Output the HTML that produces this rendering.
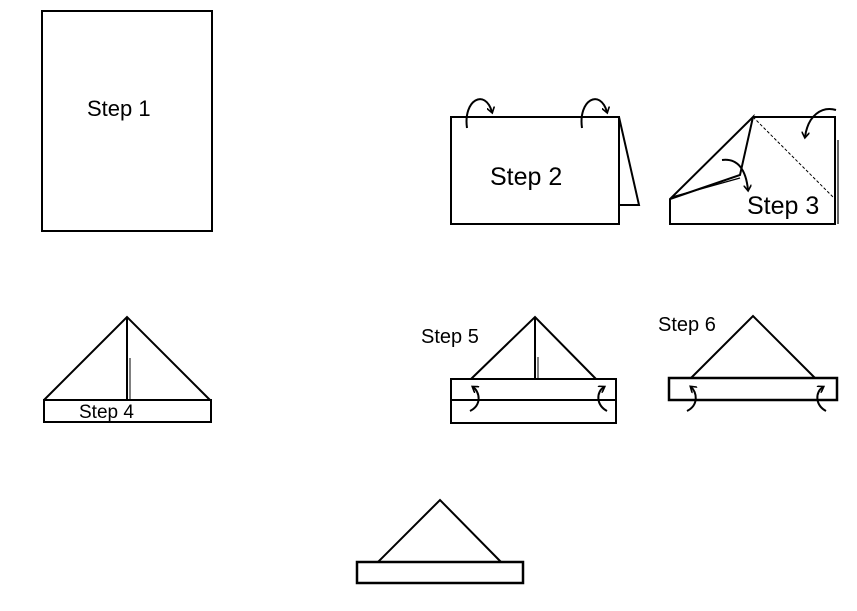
<!DOCTYPE html>
<html><head><style>
html,body{margin:0;padding:0;background:#fff;}
svg{display:block;}
text{font-family:"Liberation Sans",sans-serif;fill:#000;}
</style></head><body>
<svg width="857" height="611" viewBox="0 0 857 611" xmlns="http://www.w3.org/2000/svg">
<defs>
<marker id="ah" markerWidth="8" markerHeight="8" refX="5" refY="4" orient="auto" markerUnits="userSpaceOnUse">
<path d="M0,0 L6,4 L0,8" fill="none" stroke="#000" stroke-width="1.6"/>
</marker>
</defs>
<g fill="none" stroke="#000" stroke-width="2">
<rect x="42" y="11" width="170" height="220"/>
<rect x="451" y="117" width="168" height="107"/>
<polyline points="619,117 639,205 619,205"/>
<path d="M467,128 C463,100 485,88 492,112" marker-end="url(#ah)"/>
<path d="M582,128 C578,100 600,88 607,112" marker-end="url(#ah)"/>
<polyline points="753,117 835,117 835,224 670,224 670,199 753,117 740,175 670,199"/>
<line x1="672" y1="197" x2="740" y2="178" stroke-width="1.2"/>
<line x1="838" y1="140" x2="838" y2="224" stroke-width="1.2"/>
<line x1="753" y1="117" x2="834" y2="198" stroke-width="1" stroke-dasharray="3,2"/>
<path d="M722,160 C738,158 746,170 748,190" marker-end="url(#ah)"/>
<path d="M836,110 C822,106 808,115 805,137" marker-end="url(#ah)"/>
<rect x="44" y="400" width="167" height="22"/>
<polyline points="44,400 127,317 210,400"/>
<line x1="127" y1="317" x2="127" y2="400"/>
<line x1="130" y1="358" x2="130" y2="400" stroke-width="1"/>
<rect x="451" y="379" width="165" height="44"/>
<line x1="451" y1="400" x2="616" y2="400"/>
<polyline points="471,379 535,317 596,379"/>
<line x1="535" y1="317" x2="535" y2="379"/>
<line x1="538" y1="357" x2="538" y2="379" stroke-width="1"/>
<path d="M470,411 C482,405 480,392 473,387" marker-end="url(#ah)"/>
<path d="M607,411 C596,405 596,392 604,387" marker-end="url(#ah)"/>
<rect x="669" y="378" width="168" height="22" stroke-width="2.5"/>
<polyline points="691,378 753,316 815,378"/>
<path d="M687,411 C699,405 697,392 691,387" marker-end="url(#ah)"/>
<path d="M826,411 C815,405 815,392 823,387" marker-end="url(#ah)"/>
<rect x="357" y="562" width="166" height="21" stroke-width="2.5"/>
<polyline points="378,562 440,500 501,562"/>
</g>
<text x="87" y="116" font-size="22">Step 1</text>
<text x="490" y="185" font-size="25">Step 2</text>
<text x="747" y="214" font-size="25">Step 3</text>
<text x="79" y="418" font-size="19">Step 4</text>
<text x="421" y="343" font-size="20">Step 5</text>
<text x="658" y="331" font-size="20">Step 6</text>
</svg>
</body></html>
